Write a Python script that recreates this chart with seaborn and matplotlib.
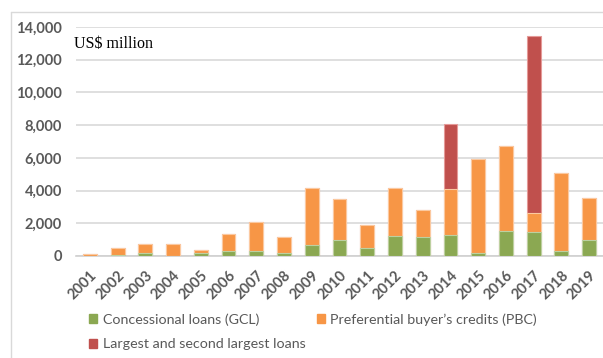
import matplotlib
matplotlib.use("Agg")
import matplotlib.pyplot as plt
from matplotlib.patches import Patch
from matplotlib.lines import Line2D
import numpy as np
import pandas as pd
import seaborn as sns

# Annual lending, US$ million
years = ["2001", "2002", "2003", "2004", "2005", "2006", "2007", "2008", "2009", "2010",
         "2011", "2012", "2013", "2014", "2015", "2016", "2017", "2018", "2019"]
gcl = [0, 80, 160, 0, 160, 330, 310, 200, 670, 980,
       490, 1220, 1160, 1260, 160, 1550, 1470, 290, 960]
pbc = [100, 410, 570, 720, 210, 1020, 1770, 980, 3470, 2490,
       1410, 2960, 1670, 2820, 5800, 5180, 1140, 4790, 2590]
largest = [0, 0, 0, 0, 0, 0, 0, 0, 0, 0,
           0, 0, 0, 4000, 0, 0, 10830, 0, 0]

label_gcl = "Concessional loans (GCL)"
label_pbc = "Preferential buyer\u2019s credits (PBC)"
label_big = "Largest and second largest loans"
unit_label = "US$ million"
y_ticks = [0, 2000, 4000, 6000, 8000, 10000, 12000, 14000]

c_gcl = "#8BA852"
c_pbc = "#F79646"
c_big = "#C0504D"
grey_text = "#595959"

df = pd.DataFrame({"year": years, "gcl": gcl, "pbc": pbc, "largest": largest})
df["lvl_pbc"] = df["gcl"] + df["pbc"]
df["lvl_big"] = df["lvl_pbc"] + df["largest"]

sns.set_theme(style="white")
plt.rcParams["font.family"] = ["Lato", "DejaVu Sans"]

fig = plt.figure(figsize=(6.03, 3.58), dpi=100)
ax = fig.add_axes([0.126, 0.285, 0.874, 0.6395])

# stacked bars: draw cumulative levels from the top segment down
bar_kw = dict(width=0.5, linewidth=0.8, saturation=1, ax=ax, zorder=3)
sns.barplot(data=df, x="year", y="lvl_big", color=c_big, edgecolor="#E59A98", **bar_kw)
sns.barplot(data=df, x="year", y="lvl_pbc", color=c_pbc, edgecolor="#FBC9A0", **bar_kw)
sns.barplot(data=df, x="year", y="gcl", color=c_gcl, edgecolor="#BCD0A0", **bar_kw)

ax.set_xlim(-0.5, len(years) - 0.5)
ax.set_ylim(0, 14000)
ax.set_yticks(y_ticks)
ax.set_yticklabels([f"{v:,}" for v in y_ticks])
ax.set_xlabel("")
ax.set_ylabel("")
ax.yaxis.grid(True, color="#D9D9D9", linewidth=1.2, zorder=0)
ax.set_axisbelow(True)
for s in ["left", "right", "top"]:
    ax.spines[s].set_visible(False)
ax.spines["bottom"].set_color("#D0D0D0")
ax.spines["bottom"].set_linewidth(1.2)
ax.tick_params(axis="y", length=0, pad=10)
ax.tick_params(axis="x", length=0, pad=9)
for t in ax.get_yticklabels():
    t.set_fontsize(10.5)
    t.set_fontweight("bold")
    t.set_color(grey_text)
for t in ax.get_xticklabels():
    t.set_fontsize(10.5)
    t.set_fontweight("bold")
    t.set_color(grey_text)
    t.set_rotation(45)
    t.set_ha("right")
    t.set_rotation_mode("anchor")

fig.text(74 / 603, 1 - 44 / 358, unit_label, family="Liberation Serif",
         fontsize=11.5, color="black", va="center", ha="left")

handles = [Patch(color=c_gcl, label=label_gcl), Patch(color=c_big, label=label_big),
           Patch(color=c_pbc, label=label_pbc)]
leg = fig.legend(handles=handles, loc="upper left", bbox_to_anchor=(89 / 603, 1 - 313 / 358),
                 ncol=2, frameon=False, fontsize=10.3, handlelength=0.55, handleheight=0.55,
                 handletextpad=0.4, labelspacing=0.9, columnspacing=0.8,
                 borderpad=0, borderaxespad=0)
for t in leg.get_texts():
    t.set_color(grey_text)

# outer chart frame
fig.add_artist(Line2D([11 / 603, 11 / 603], [0, 1 - 12 / 358], color="#D9D9D9", lw=1.0))
fig.add_artist(Line2D([11 / 603, 1], [1 - 12 / 358, 1 - 12 / 358], color="#D9D9D9", lw=1.0))

fig.savefig("out.png", dpi=100, facecolor="white")
